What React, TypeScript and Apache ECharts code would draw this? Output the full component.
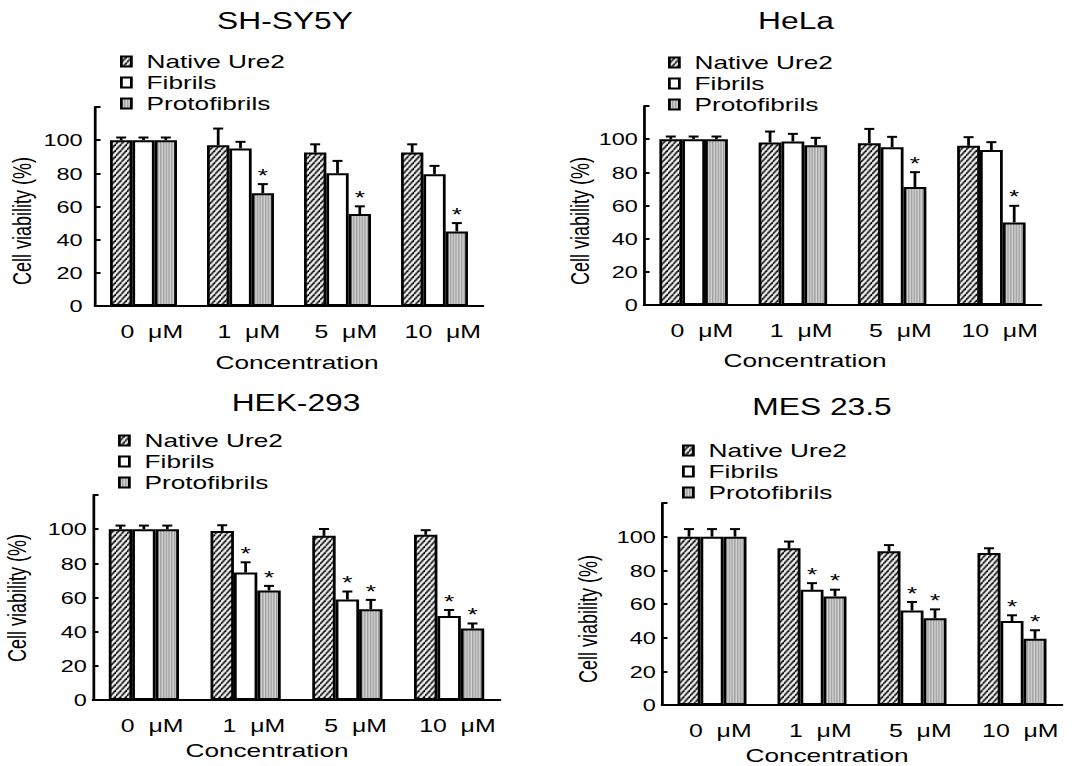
import React, { useEffect, useRef } from 'react';
import * as echarts from 'echarts';

// ---------- DATA ----------
const categories = ['0 μM', '1 μM', '5 μM', '10 μM'];
const seriesNames = ['Native Ure2', 'Fibrils', 'Protofibrils'];
const panelTitles = ['SH-SY5Y', 'HeLa', 'HEK-293', 'MES 23.5'];
const yAxisTitle = 'Cell viability (%)';
const xAxisTitle = 'Concentration';

// SH-SY5Y
const shNative = [100, 97, 92.5, 92.5];
const shNativeErr = [1.6, 10, 5, 5];
const shFibrils = [100, 95, 80, 79.5];
const shFibrilsErr = [1.6, 4, 7.5, 5];
const shProto = [100, 68, 55.5, 45];
const shProtoErr = [1.6, 5.5, 4.6, 5];
const shNativeStar = [0, 0, 0, 0];
const shFibrilsStar = [0, 0, 0, 0];
const shProtoStar = [0, 1, 1, 1];

// HeLa
const heNative = [100, 98, 97.6, 96];
const heNativeErr = [1.6, 6.6, 8.6, 5.2];
const heFibrils = [100, 98.6, 95.2, 93.4];
const heFibrilsErr = [1.6, 4.6, 6.2, 4.8];
const heProto = [100, 96.4, 71.1, 49.8];
const heProtoErr = [1.6, 4.4, 9, 10];
const heNativeStar = [0, 0, 0, 0];
const heFibrilsStar = [0, 0, 0, 0];
const heProtoStar = [0, 0, 1, 1];

// HEK-293
const hkNative = [100, 99, 96.1, 96.7];
const hkNativeErr = [2.1, 3.3, 4, 2.7];
const hkFibrils = [100, 74.6, 58.8, 49.2];
const hkFibrilsErr = [2.1, 6, 4.7, 3.5];
const hkProto = [100, 64.1, 53.1, 41.8];
const hkProtoErr = [2.1, 2.7, 5.5, 3];
const hkNativeStar = [0, 0, 0, 0];
const hkFibrilsStar = [0, 1, 1, 1];
const hkProtoStar = [0, 1, 1, 1];

// MES 23.5
const meNative = [100, 93.1, 91.3, 90.3];
const meNativeErr = [4.5, 4, 3.7, 2.8];
const meFibrils = [100, 68.4, 56.2, 49.9];
const meFibrilsErr = [4.5, 4, 5, 3.4];
const meProto = [100, 64.5, 51.5, 39.4];
const meProtoErr = [4.5, 4, 5.3, 5];
const meNativeStar = [0, 0, 0, 0];
const meFibrilsStar = [0, 1, 1, 1];
const meProtoStar = [0, 1, 1, 1];

// ---------- LAYOUT ----------
const S = 1.38; // horizontal stretch of the original figure
const u = (x: number) => x / S;
const FONT = '"Liberation Sans", Arial, sans-serif';

const panels = [
  {
    values: [shNative, shFibrils, shProto], errs: [shNativeErr, shFibrilsErr, shProtoErr],
    stars: [shNativeStar, shFibrilsStar, shProtoStar],
    grid: [95, 483, 107, 306], legend: [120, 51], title: [285, 21], yName: [22, 221], xName: [297, 362], labelMargin: 9,
  },
  {
    values: [heNative, heFibrils, heProto], errs: [heNativeErr, heFibrilsErr, heProtoErr],
    stars: [heNativeStar, heFibrilsStar, heProtoStar],
    grid: [644, 1041, 106, 305], legend: [668, 52], title: [796, 21], yName: [580, 221], xName: [805, 360], labelMargin: 4.5,
  },
  {
    values: [hkNative, hkFibrils, hkProto], errs: [hkNativeErr, hkFibrilsErr, hkProtoErr],
    stars: [hkNativeStar, hkFibrilsStar, hkProtoStar],
    grid: [93, 500, 495, 700], legend: [118, 430], title: [296, 403], yName: [17, 598], xName: [267, 750], labelMargin: 4.5,
  },
  {
    values: [meNative, meFibrils, meProto], errs: [meNativeErr, meFibrilsErr, meProtoErr],
    stars: [meNativeStar, meFibrilsStar, meProtoStar],
    grid: [662, 1062, 503, 705], legend: [682, 440], title: [822, 407], yName: [588, 619], xName: [827, 755], labelMargin: 4.5,
  },
];

function makeHatch() {
  const w = 4, h = 6;
  const c = document.createElement('canvas');
  c.width = w; c.height = h;
  const ctx = c.getContext('2d')!;
  ctx.fillStyle = '#ffffff';
  ctx.fillRect(0, 0, w, h);
  ctx.strokeStyle = '#000000';
  ctx.lineWidth = 1.4;
  for (let k = -1; k <= 1; k++) {
    ctx.beginPath();
    ctx.moveTo(k * w, h);
    ctx.lineTo(k * w + w, 0);
    ctx.stroke();
  }
  return { image: c, repeat: 'repeat', imageWidth: w, imageHeight: h };
}

function makeStripes() {
  const w = 2, h = 2;
  const c = document.createElement('canvas');
  c.width = w; c.height = h;
  const ctx = c.getContext('2d')!;
  ctx.fillStyle = '#d6d6d6';
  ctx.fillRect(0, 0, w, h);
  ctx.fillStyle = '#9c9c9c';
  ctx.fillRect(0, 0, 1, h);
  return { image: c, repeat: 'repeat', imageWidth: w, imageHeight: h };
}

export default function App() {
  const ref = useRef<HTMLDivElement>(null);

  useEffect(() => {
    if (!ref.current) return;
    const chart = echarts.init(ref.current, undefined, { renderer: 'svg' });
    const fills: any[] = [makeHatch(), '#ffffff', makeStripes()];

    const bars: any[] = [];
    const errs: any[] = [];
    panels.forEach((p, i) => {
      seriesNames.forEach((name, j) => {
        bars.push({
          type: 'bar', name, xAxisIndex: i, yAxisIndex: i, data: p.values[j],
          barWidth: '23%', barGap: '0%', z: 2, silent: true,
          itemStyle: { color: fills[j], borderColor: '#000', borderWidth: 2 },
          emphasis: { disabled: true },
        });
        const offset = j - 1;
        errs.push({
          type: 'custom', xAxisIndex: i, yAxisIndex: i, z: 3, silent: true,
          encode: { x: 0, y: 1 },
          data: p.values[j].map((v, k) => [k, v, p.errs[j][k], p.stars[j][k]]),
          renderItem: (params: any, api: any) => {
            const cat = api.value(0), v = api.value(1), e = api.value(2), s = api.value(3);
            const base = api.coord([cat, v]);
            const top = api.coord([cat, v + e]);
            const band = api.size([1, 0])[0];
            const x = base[0] + offset * band * 0.23;
            const cap = u(5);
            const children: any[] = [
              { type: 'line', shape: { x1: x, y1: base[1], x2: x, y2: top[1] }, style: { stroke: '#000', lineWidth: 2 } },
              { type: 'line', shape: { x1: x - cap, y1: top[1], x2: x + cap, y2: top[1] }, style: { stroke: '#000', lineWidth: 2 } },
            ];
            if (s) {
              children.push({
                type: 'text', x, y: top[1] - 9,
                style: {
                  text: '*', fill: '#000', fontSize: 19, fontFamily: FONT,
                  textAlign: 'center', textVerticalAlign: 'middle', align: 'center', verticalAlign: 'middle',
                },
              });
            }
            return { type: 'group', children };
          },
        });
      });
    });

    const txt = (text: string, x: number, y: number, size: number, rotation = 0) => ({
      type: 'text', x: u(x), y, rotation, silent: true,
      style: {
        text, fill: '#000', fontSize: size, fontFamily: FONT,
        textAlign: 'center', textVerticalAlign: 'middle', align: 'center', verticalAlign: 'middle',
      },
    });
    const graphics: any[] = [];
    panels.forEach((p, i) => {
      graphics.push(txt(panelTitles[i], p.title[0], p.title[1], 23));
      graphics.push(txt(yAxisTitle, p.yName[0], p.yName[1], 18, Math.PI / 2));
      graphics.push(txt(xAxisTitle, p.xName[0], p.xName[1], 19));
    });

    chart.setOption({
      animation: false,
      backgroundColor: '#ffffff',
      grid: panels.map((p) => ({
        left: u(p.grid[0]), top: p.grid[2], width: u(p.grid[1] - p.grid[0]), height: p.grid[3] - p.grid[2],
        containLabel: false,
      })),
      xAxis: panels.map((p, i) => ({
        type: 'category', gridIndex: i, data: categories,
        axisLine: { show: true, lineStyle: { color: '#000', width: 2 } },
        axisTick: { show: false },
        axisLabel: {
          interval: 0, hideOverlap: false,
          color: '#000', fontSize: 18, fontFamily: FONT, margin: 17, padding: [0, 0, 0, 12],
          formatter: (v: string) => v.replace(' ', '  '),
        },
        splitLine: { show: false },
      })),
      yAxis: panels.map((p, i) => ({
        type: 'value', gridIndex: i, min: 0, max: 120, interval: 20,
        axisLine: { show: true, lineStyle: { color: '#000', width: 2 } },
        axisTick: { show: true, inside: true, length: 4, lineStyle: { color: '#000', width: 2 } },
        axisLabel: {
          color: '#000', fontSize: 17, fontFamily: FONT, margin: p.labelMargin,
          formatter: (v: number) => (v > 100 ? '' : String(v)),
        },
        splitLine: { show: false },
      })),
      legend: panels.map((p) => ({
        data: seriesNames, orient: 'vertical', left: u(p.legend[0]), top: p.legend[1],
        icon: 'rect', itemWidth: u(10), itemHeight: 10, itemGap: 0, selectedMode: false,
        padding: 0,
        textStyle: { color: '#000', fontSize: 19, fontFamily: FONT, lineHeight: 21, padding: [0, 0, 0, 6] },
      })),
      series: [...bars, ...errs],
      graphic: graphics,
    });

    return () => chart.dispose();
  }, []);

  return (
    <div style={{ position: 'absolute', left: 0, top: 0, width: 1078, height: 766, overflow: 'hidden', background: '#fff' }}>
      <div
        ref={ref}
        style={{ width: 1078 / S, height: 766, transform: `scaleX(${S})`, transformOrigin: '0 0' }}
      />
    </div>
  );
}
